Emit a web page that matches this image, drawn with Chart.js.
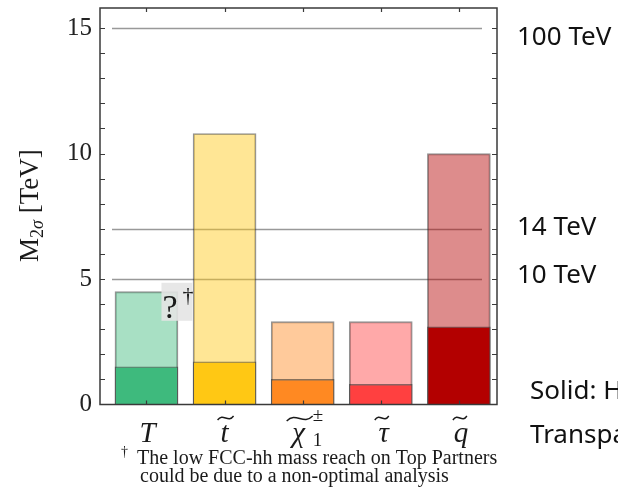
<!DOCTYPE html>
<html>
<head>
<meta charset="utf-8">
<script src="https://cdn.jsdelivr.net/npm/chart.js@4.4.1/dist/chart.umd.min.js"></script>
<style>
  html, body { margin: 0; padding: 0; background: #fff; }
  #wrap { width: 618px; height: 491px; }
</style>
</head>
<body>
<div id="wrap"><canvas id="reachChart" width="618" height="491"></canvas></div>
<script>
// mass reach per particle: solid = HL-LHC, light = FCC-hh
const particles = ["T", "t", "chi", "tau", "q"];
const hlReach = [1.5, 1.7, 1.0, 0.8, 3.1];
const fccReach = [4.5, 10.8, 3.3, 3.3, 10.0];
const barColors = ["62,186,125", "255,200,20", "255,137,34", "255,64,64", "179,0,0"];
const energyLines = [15, 7, 5];
const energyLabels = ["100 TeV", "14 TeV", "10 TeV"];
const yTicks = [0, 5, 10, 15];

const SERIF = '"Liberation Serif", "DejaVu Serif", serif';
const SANS = '"Noto Sans", "Open Sans", sans-serif';

function wideTilde(ctx, cx, top, w, h) {
  const x0 = cx - w / 2;
  ctx.beginPath();
  ctx.moveTo(x0, top + h);
  ctx.bezierCurveTo(x0 + w * 0.35, top - h * 0.9, x0 + w * 0.65, top + h * 1.9, x0 + w, top);
  ctx.stroke();
}

const overlay = {
  id: "overlay",
  beforeDatasetsDraw(chart) {
    const { ctx, chartArea: a, scales: { y } } = chart;
    ctx.save();
    ctx.strokeStyle = "#999";
    ctx.lineWidth = 1.3;
    energyLines.forEach(v => {
      const py = Math.round(y.getPixelForValue(v)) + 0.5;
      ctx.beginPath();
      ctx.moveTo(a.left + 12, py);
      ctx.lineTo(a.right - 15, py);
      ctx.stroke();
    });
    ctx.restore();
  },
  afterDraw(chart) {
    const { ctx, chartArea: a, scales: { x, y } } = chart;
    ctx.save();

    // frame with inward ticks
    ctx.strokeStyle = "#3a3a3a";
    ctx.lineWidth = 1.5;
    ctx.strokeRect(a.left, a.top, a.right - a.left, a.bottom - a.top);
    ctx.lineWidth = 1.2;
    ctx.beginPath();
    for (let v = 1; v <= 15; v++) {
      const py = Math.round(y.getPixelForValue(v)) + 0.5;
      ctx.moveTo(a.left, py); ctx.lineTo(a.left + 5, py);
      ctx.moveTo(a.right, py); ctx.lineTo(a.right - 5, py);
    }
    particles.forEach((p, i) => {
      const px = Math.round(x.getPixelForValue(i)) + 0.5;
      ctx.moveTo(px, a.top); ctx.lineTo(px, a.top + 4);
      ctx.moveTo(px, a.bottom); ctx.lineTo(px, a.bottom - 4);
    });
    ctx.stroke();

    // category labels
    ctx.fillStyle = "#1a1a1a";
    ctx.strokeStyle = "#1a1a1a";
    ctx.lineWidth = 1.4;
    ctx.textBaseline = "alphabetic";
    ctx.textAlign = "center";
    const base = 442;
    const big = "italic 29px " + SERIF;
    const small = "19px " + SERIF;
    let cx = x.getPixelForValue(0);
    ctx.font = big;
    ctx.fillText("T", cx + 1, base);

    cx = x.getPixelForValue(1);
    ctx.fillText("t", cx, base);
    wideTilde(ctx, cx + 1, 416, 16, 4);

    cx = x.getPixelForValue(2);
    ctx.fillText("χ", cx - 4, base);
    wideTilde(ctx, cx - 3, 416, 26, 5);
    ctx.font = small;
    ctx.textAlign = "left";
    ctx.fillText("1", cx + 10, base + 4);
    ctx.fillText("±", cx + 10, base - 21);
    ctx.textAlign = "center";
    ctx.font = big;

    cx = x.getPixelForValue(3);
    ctx.fillText("τ", cx + 3, base);
    wideTilde(ctx, cx + 1, 416, 14, 4);

    cx = x.getPixelForValue(4);
    ctx.fillText("q", cx + 2, base);
    wideTilde(ctx, cx + 1, 416, 14, 4);

    // y axis title: M_{2σ} [TeV]
    ctx.save();
    ctx.translate(38, 262);
    ctx.rotate(-Math.PI / 2);
    ctx.textAlign = "left";
    let w = 0;
    ctx.font = "27px " + SERIF;
    ctx.fillText("M", w, 0); w += ctx.measureText("M").width;
    ctx.font = "18px " + SERIF;
    ctx.fillText("2", w, 5); w += ctx.measureText("2").width;
    ctx.font = "italic 18px " + SERIF;
    ctx.fillText("σ", w, 5); w += ctx.measureText("σ").width;
    ctx.font = "27px " + SERIF;
    ctx.fillText(" [TeV]", w, 0);
    ctx.restore();

    // footnote
    ctx.textAlign = "left";
    ctx.font = "14px " + SERIF;
    ctx.fillText("†", 121, 456);
    ctx.font = "20px " + SERIF;
    ctx.fillText("The low FCC-hh mass reach on Top Partners", 137, 464);
    ctx.fillText("could be due to a non-optimal analysis", 140, 482);

    // question mark note on the top partner bar
    const bx = x.getPixelForValue(0) + 15;
    const by = y.getPixelForValue(4.85);
    ctx.fillStyle = "rgba(228,228,228,0.9)";
    ctx.fillRect(bx, by, 31, 38);
    ctx.fillStyle = "#1a1a1a";
    ctx.font = "34px " + SERIF;
    ctx.fillText("?", bx + 1, by + 35);
    ctx.font = "22px " + SERIF;
    ctx.fillText("†", bx + 21, by + 19);

    // collider energy labels
    ctx.font = "26px " + SANS;
    ctx.fillStyle = "#111";
    const labelOffsets = [17, 6, 4];
    energyLines.forEach((v, i) => {
      ctx.fillText(energyLabels[i], a.right + 20, y.getPixelForValue(v) + labelOffsets[i]);
    });
    ctx.fillText("Solid: HL-LHC", 530, 399);
    ctx.fillText("Transparent: FCC-hh", 530, 443);

    ctx.restore();
  }
};

new Chart(document.getElementById("reachChart"), {
  type: "bar",
  data: {
    datasets: [
      {
        label: "HL-LHC",
        data: hlReach.map((v, i) => ({ x: i, y: v })),
        backgroundColor: barColors.map(c => "rgb(" + c + ")"),
        borderColor: "rgba(40,40,40,0.55)",
        borderWidth: 1.3,
        barThickness: 63,
        grouped: false
      },
      {
        label: "FCC-hh",
        data: fccReach.map((v, i) => ({ x: i, y: v })),
        backgroundColor: barColors.map(c => "rgba(" + c + ",0.45)"),
        borderColor: "rgba(40,40,40,0.5)",
        borderWidth: 1.3,
        barThickness: 63,
        grouped: false
      }
    ]
  },
  options: {
    responsive: false,
    animation: false,
    layout: { padding: { left: 0, right: 121, top: 8, bottom: 86.5 } },
    plugins: { legend: { display: false }, tooltip: { enabled: false } },
    scales: {
      x: {
        type: "linear",
        min: -0.595,
        max: 4.488,
        offset: false,
        grid: { offset: false },
        display: false
      },
      y: {
        min: 0,
        max: 15.8,
        afterFit(scale) {
          scale.width = 100;
          scale.paddingTop = 0;
          scale.paddingBottom = 0;
        },
        afterBuildTicks(scale) { scale.ticks = yTicks.map(v => ({ value: v })); },
        grid: { display: false, drawTicks: false },
        border: { display: false },
        ticks: {
          autoSkip: false,
          padding: 8,
          color: "#222",
          font: { family: "Liberation Serif", size: 25 }
        }
      }
    }
  },
  plugins: [overlay]
});
</script>
</body>
</html>
